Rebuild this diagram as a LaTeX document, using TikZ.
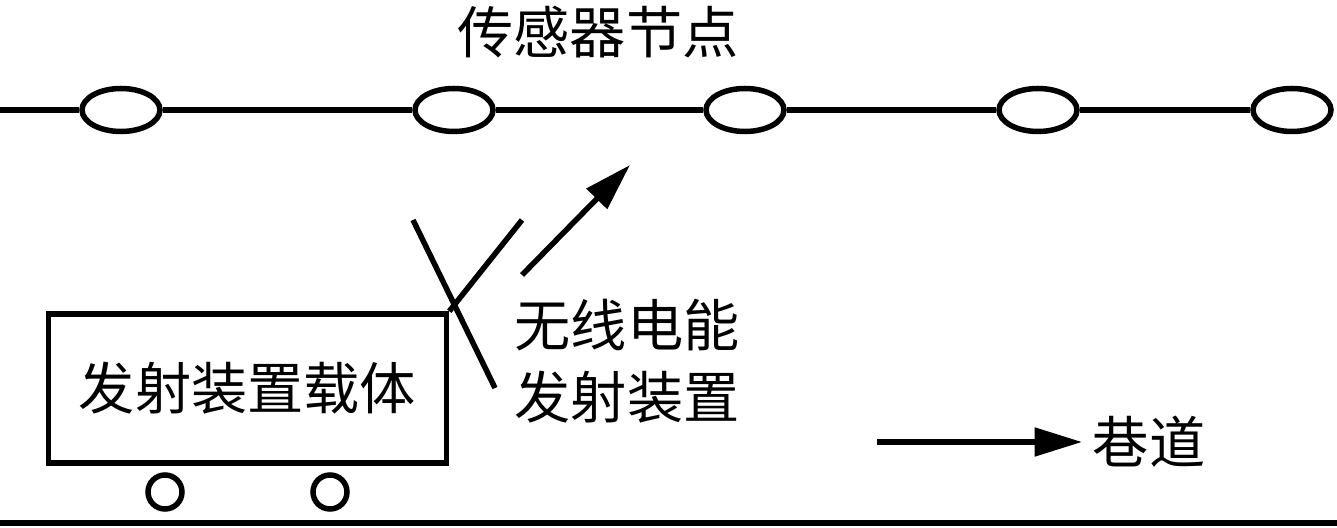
\documentclass[tikz,border=0pt]{standalone}
\usepackage{fontspec}
\usepackage{tikz}
\usetikzlibrary{shapes.geometric, arrows.meta, positioning, calc}
\newfontfamily\cjk{Noto Sans CJK SC}

\begin{document}
\begin{tikzpicture}[
  line width=0.11cm,
  sensor/.style={ellipse, draw, inner sep=0pt, minimum width=1.56cm, minimum height=0.86cm},
  carrier/.style={rectangle, draw, inner sep=0pt, minimum width=7.96cm, minimum height=2.98cm,
    font=\cjk\fontsize{32}{40}\selectfont},
  wheel/.style={circle, draw, inner sep=0pt, minimum size=0.68cm},
  label/.style={inner sep=0pt, font=\cjk\fontsize{32}{41}\selectfont},
  bigarrow/.style={-{Triangle[length=0.95cm, width=0.56cm]}}
]
  \useasboundingbox (0,0) rectangle (26.74,10.54);

  % sensor nodes along the line
  \node[label] (title) at (11.96, 9.9) {传感器节点};
  \coordinate (lineleft) at (0, 8.34);
  \foreach \i/\x in {1/2.42, 2/9.08, 3/14.9, 4/20.76, 5/25.84}
    \node[sensor] (s\i) at (\x, 8.34) {};
  \draw (lineleft) -- (s1.west);
  \foreach \i/\j in {1/2, 2/3, 3/4, 4/5}
    \draw (s\i.east) -- (s\j.west);

  % carrier with wheels
  \node[carrier] (cart) at (4.95, 2.77) {发射装置载体};
  \node[wheel] (w1) at (3.30, 0.70) {};
  \node[wheel] (w2) at (6.60, 0.70) {};
  \coordinate (groundl) at (0, 0.08);
  \coordinate (groundr) at (26.74, 0.08);
  \draw (groundl) -- (groundr);

  % antenna
  \coordinate (ant1a) at (8.26, 6.14);
  \coordinate (ant1b) at (9.90, 2.78);
  \coordinate (ant2) at (10.44, 6.14);
  \draw (ant1a) -- (ant1b);
  \draw (cart.north east) -- (ant2);

  % emitted power
  \coordinate (wavestart) at (10.44, 5.04);
  \coordinate (waveend) at (12.60, 7.24);
  \draw[bigarrow] (wavestart) -- (waveend);
  \node[label, anchor=west, align=left] (emitter) at (10.24, 3.32) {无线电能\\发射装置};

  % roadway direction
  \coordinate (roadstart) at (17.54, 1.70);
  \node[label, anchor=west] (road) at (21.8, 1.70) {巷道};
  \draw[bigarrow] (roadstart) -- ([xshift=-0.16cm]road.west);
\end{tikzpicture}
\end{document}
